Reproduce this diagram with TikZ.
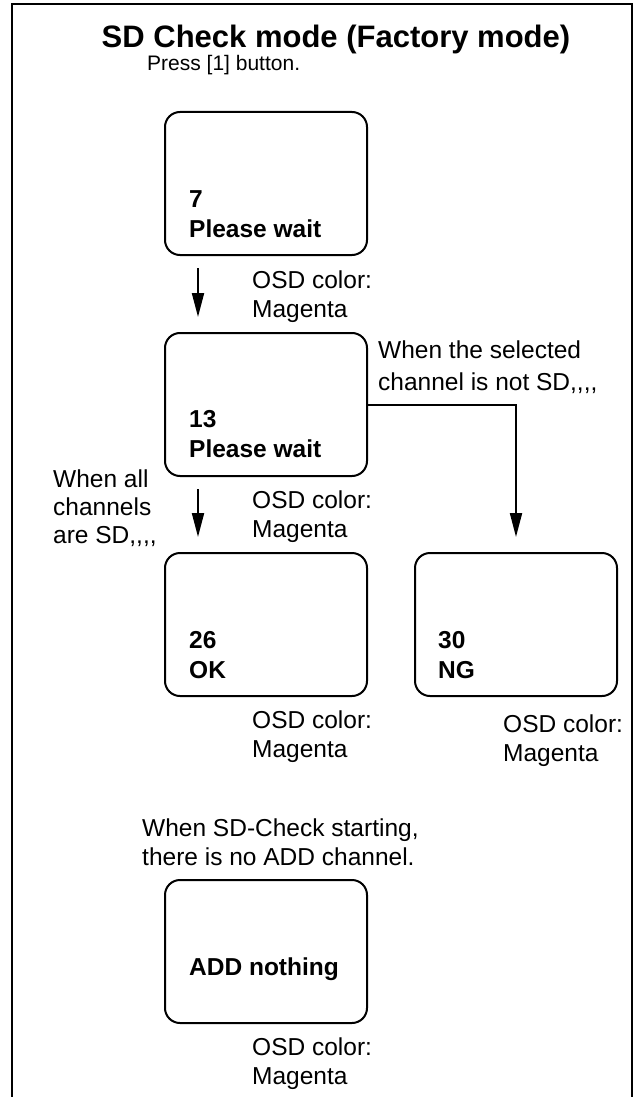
\documentclass[tikz,border=0pt]{standalone}
\usepackage{fontspec}
\setmainfont{Liberation Sans}
\usetikzlibrary{arrows.meta}
\begin{document}
\begin{tikzpicture}[
    x=1pt,
    y=-1pt,
    >={Triangle[length=24pt,width=12pt]},
    screen/.style={
        draw,
        line width=2pt,
        rounded corners=15pt,
        minimum width=202pt,
        minimum height=143pt,
        inner sep=0pt
    },
    screentext/.style={
        font=\fontsize{24.5}{30}\selectfont\bfseries,
        align=left,
        anchor=north west,
        inner sep=0pt
    },
    note/.style={
        font=\fontsize{24.5}{29}\selectfont,
        align=left,
        anchor=north west,
        inner sep=0pt
    },
    flow/.style={
        ->,
        line width=2pt,
        shorten <=12pt,
        shorten >=15pt
    }
    ]
    \useasboundingbox (0,0) rectangle (633,1097);
    \draw[line width=2pt] (12,1097) -- (12,4) -- (632,4) -- (632,1097);

    \node[anchor=base,inner sep=0pt,font=\fontsize{31}{36}\selectfont\bfseries] (title) at (336,48) {SD Check mode (Factory mode)};
    \node[anchor=base west,inner sep=0pt,font=\fontsize{21}{26}\selectfont] (press) at (147,71) {Press [1] button.};

    \node[screen] (s7) at (266,183.5) {};
    \node[screentext] (t7) at (189,190.5) {7\\Please wait};
    \node[note] (osd7) at (252,270.5) {OSD color:\\Magenta};

    \node[screen] (s13) at (266,404.5) {};
    \node[screentext] (t13) at (189,410.5) {13\\Please wait};
    \node[note] (osd13) at (252,490.5) {OSD color:\\Magenta};
    \node[note,font=\fontsize{24.5}{32}\selectfont] (notsd) at (378,340.5) {When the selected\\channel is not SD,{},{},{},};
    \node[note,font=\fontsize{24.5}{28}\selectfont] (allsd) at (53,469.5) {When all\\channels\\are SD,{},{},{},};

    \node[screen] (s26) at (266,624.5) {};
    \node[screentext] (t26) at (189,631.5) {26\\OK};
    \node[note] (osd26) at (252,710.5) {OSD color:\\Magenta};

    \node[screen] (s30) at (516,624.5) {};
    \node[screentext] (t30) at (438,631.5) {30\\NG};
    \node[note] (osd30) at (503,714.5) {OSD color:\\Magenta};

    \node[note] (nochan) at (142,818.5) {When SD-Check starting,\\there is no ADD channel.};
    \node[screen] (sadd) at (266,951.5) {};
    \node[screentext] (tadd) at (189,958) {ADD nothing};
    \node[note] (osdadd) at (252,1037.5) {OSD color:\\Magenta};

    \draw[flow] ([xshift=-68pt]s7.south) -- ([xshift=-68pt]s13.north);
    \draw[flow] ([xshift=-68pt]s13.south) -- ([xshift=-68pt]s26.north);
    \draw[flow,shorten <=0pt] (s13.east) -| (s30.north);
\end{tikzpicture}
\end{document}
